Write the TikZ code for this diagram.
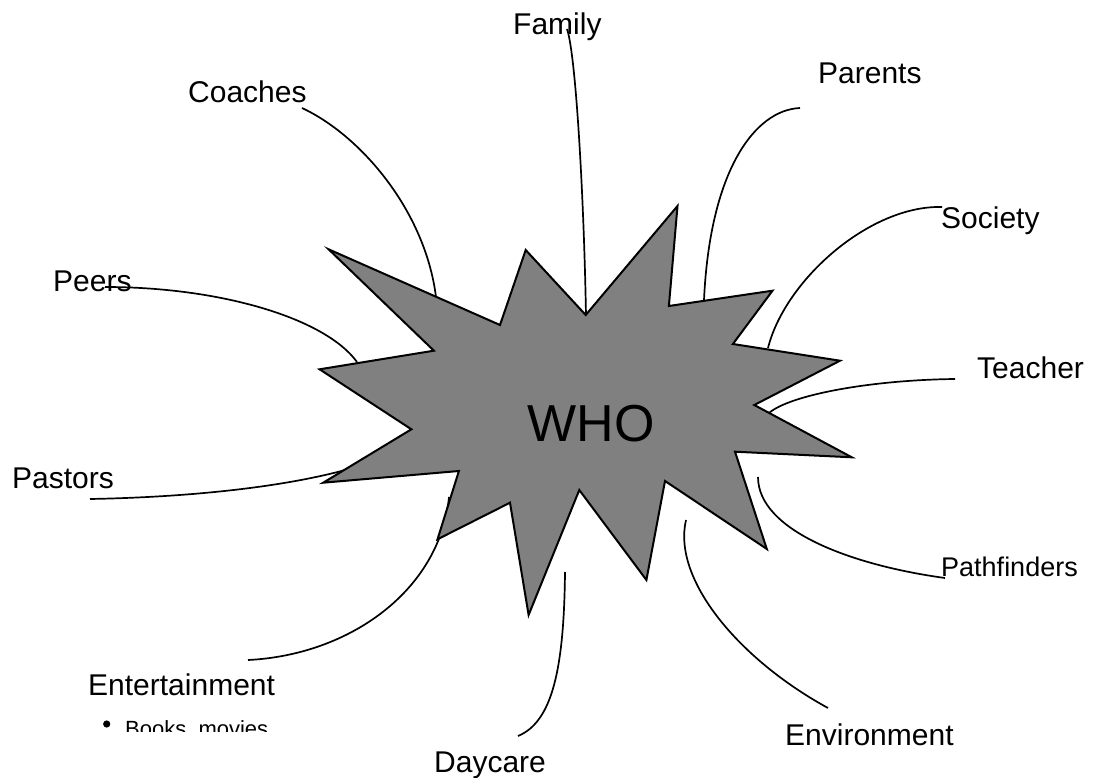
\documentclass[tikz,border=0pt]{standalone}
\usepackage{fontspec}
\setmainfont{Liberation Sans}
\begin{document}
\begin{tikzpicture}[x=1pt,y=-1pt,
  lbl/.style={inner sep=0pt,anchor=base west,font=\fontsize{30}{33}\selectfont},
  link/.style={draw=black,line width=1.7pt},
  burst/.style={fill=gray,draw=black,line width=2pt,line join=miter}]
\useasboundingbox (0,0) rectangle (1093,778);

% labels
\node[lbl] (coaches) at (188,103) {Coaches};
\node[lbl] (family) at (513,35) {Family};
\node[lbl] (parents) at (818,84) {Parents};
\node[lbl] (society) at (941,229) {Society};
\node[lbl] (peers) at (53,291.7) {Peers};
\node[lbl] (teacher) at (977,378) {Teacher};
\node[lbl] (pastors) at (12,488) {Pastors};
\node[lbl,font=\fontsize{27}{30}\selectfont] (pathfinders) at (941,576) {Pathfinders};
\node[lbl] (entertainment) at (88,695) {Entertainment};
\node[lbl] (environment) at (785,745) {Environment};
\node[lbl] (daycare) at (434,772) {Daycare};
\begin{scope}
  \clip (95,705) rectangle (300,731);
  \node[lbl,font=\fontsize{22}{24}\selectfont] (books) at (125,736) {Books, movies};
  \fill (106.7,724) circle (3.6pt);
\end{scope}

% connector end points
\coordinate (coachesA) at (302,108);   \coordinate (coachesB) at (436,297);
\coordinate (familyA) at (567,29);     \coordinate (familyB) at (586,316);
\coordinate (parentsA) at (800,108);   \coordinate (parentsB) at (704,300);
\coordinate (societyA) at (942,207);   \coordinate (societyB) at (768,348);
\coordinate (teacherA) at (955,379);   \coordinate (teacherB) at (769,413);
\coordinate (pathA) at (945,578);      \coordinate (pathB) at (758,477);
\coordinate (envA) at (828,708);       \coordinate (envB) at (686,520);
\coordinate (dayA) at (518,736);       \coordinate (dayB) at (565,572);
\coordinate (entA) at (248,660);       \coordinate (entB) at (449,497);
\coordinate (pastA) at (90,499);       \coordinate (pastB) at (362,465);
\coordinate (peersA) at (105,287);     \coordinate (peersB) at (357,362);

% connectors
\draw[link] (coachesA) .. controls (360,135) and (425,210) .. (coachesB);
\draw[link] (familyA) .. controls (576,55) and (584,200) .. (familyB);
\draw[link] (parentsA) .. controls (755,110) and (710,170) .. (parentsB);
\draw[link] (societyA) .. controls (870,205) and (785,280) .. (societyB);
\draw[link] (teacherA) .. controls (870,380) and (790,395) .. (teacherB);
\draw[link] (pathA) .. controls (850,565) and (758,530) .. (pathB);
\draw[link] (envA) .. controls (740,660) and (672,580) .. (envB);
\draw[link] (dayA) .. controls (552,722) and (564,670) .. (dayB);
\draw[link] (entA) .. controls (350,655) and (440,590) .. (entB);
\draw[link] (pastA) .. controls (200,497) and (300,485) .. (pastB);
\draw[link] (peersA) .. controls (220,287) and (325,318) .. (peersB);

% burst
\draw[burst] (328.6,249.3) -- (500,325) -- (525.7,250) -- (585.7,315) -- (677.5,206)
  -- (668.9,306) -- (772.5,290.7) -- (732.9,344) -- (840,360.7) -- (754.3,405)
  -- (851.8,457.3) -- (735,451.7) -- (766.8,549) -- (665,481) -- (646.4,580)
  -- (579.3,490) -- (528.6,615) -- (510,502.7) -- (437.5,539.3) -- (458.9,471)
  -- (323.2,482.7) -- (411.4,429.3) -- (319.6,369.3) -- (433.9,350.7) -- cycle;
\node[inner sep=0pt,font=\fontsize{52}{58}\selectfont] (who) at (591,424) {WHO};
\end{tikzpicture}
\end{document}
